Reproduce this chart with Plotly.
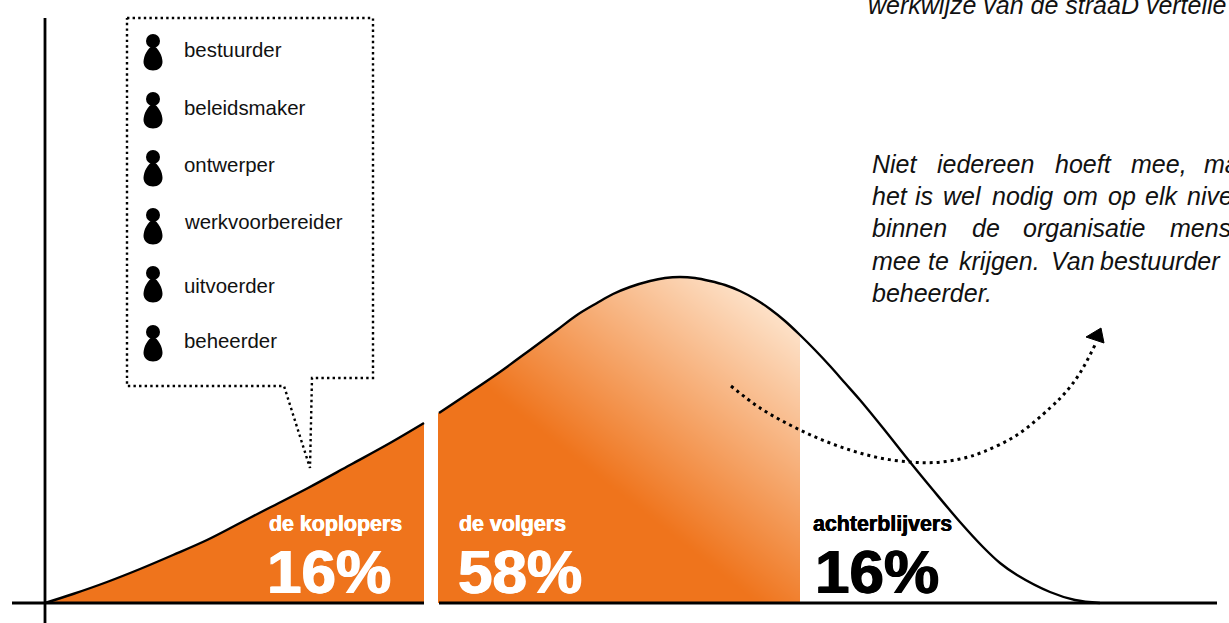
import numpy as np
import plotly.graph_objects as go

# ---- data (pixel-like scale of the drawing) ----
left_x = [45, 73, 107, 140, 173, 207, 240, 269, 308, 350, 390, 424]
left_y = [603, 594, 582, 569, 555, 540, 523, 508, 488, 465, 443, 423]

hump_x = [439, 463, 497, 530, 557, 577, 597, 613, 630, 650, 665, 680, 695, 710, 725, 740,
          755, 770, 785, 800, 815, 830, 845, 860, 883, 910, 933, 960, 983, 1000, 1017, 1050, 1075, 1100]
hump_y = [413, 397, 374, 350, 330, 315, 303, 294, 287, 281, 278, 277, 278, 281, 285, 291,
          299, 309, 321, 335, 350, 366, 383, 400, 428, 462, 490, 522, 547, 563, 575, 592, 600, 603]

arc_x = [731, 760, 790, 820, 850, 880, 910, 935, 960, 983, 1017, 1050, 1065, 1080, 1095]
arc_y = [386, 408, 425, 439, 450, 458, 462, 462.5, 459, 452, 435, 408, 393, 373, 345]
arrow_x = [1086, 1101, 1104, 1086]
arrow_y = [337, 328, 343, 337]

bubble_x = [127, 373, 373, 312, 310, 284, 127, 127]
bubble_y = [18, 18, 378, 378, 468, 386, 386, 18]

roles = ["bestuurder", "beleidsmaker", "ontwerper", "werkvoorbereider", "uitvoerder", "beheerder"]
role_y = [50, 108, 165, 222, 286, 341]
icon_y = [41, 99, 157, 215, 273, 332]

segments = ["de koplopers", "de volgers", "achterblijvers"]
segment_pct = ["16%", "58%", "16%"]
segment_x = [269, 459, 813]
pct_x = [267, 458, 815]
segment_col = ["white", "white", "black"]

top_line = "werkwijze van de straaD vertelle"
body_lines = [
    (164, [872, 937, 1055, 1131, 1204], ["Niet", "iedereen", "hoeft", "mee,", "ma"]),
    (196, [872, 915, 943, 992, 1063, 1108, 1145, 1187], ["het", "is", "wel", "nodig", "om", "op", "elk", "nive"]),
    (228, [872, 972, 1023, 1170], ["binnen", "de", "organisatie", "mens"]),
    (261, [872, 928, 959, 1051, 1100], ["mee", "te", "krijgen.", "Van", "bestuurder"]),
    (293, [872], ["beheerder."]),
]

ORANGE = "#EF741C"
PEACH = "#FDE0C6"
FONT = "Liberation Sans"

fig = go.Figure()

# diagonal gradient under the middle section
gx = 438 + (np.arange(72) + 0.5) * 362 / 72
gy = 262 + (np.arange(68) + 0.5) * 341 / 68
GX, GY = np.meshgrid(gx, gy)
depth = np.clip(((GX - 620) * 0.62 - (GY - 493) * 0.78) / 235.0, 0, 1)
fig.add_trace(go.Heatmap(x=gx, y=gy, z=depth, zmin=0, zmax=1, zsmooth="best", showscale=False,
                         colorscale=[[0, ORANGE], [1, PEACH]], hoverinfo="skip"))

# white mask above the curve
n_mid = hump_x.index(800) + 1
fig.add_trace(go.Scatter(x=hump_x[:n_mid] + [801, 801, 437, 437], y=hump_y[:n_mid] + [335, 260, 260, 413],
                         mode="lines", fill="toself", fillcolor="white", line=dict(width=0), hoverinfo="skip"))
fig.add_trace(go.Scatter(x=left_x + [424, 45], y=left_y + [603, 603], mode="lines", fill="toself",
                         fillcolor=ORANGE, line=dict(width=0), hoverinfo="skip"))

# curves
fig.add_trace(go.Scatter(x=left_x, y=left_y, mode="lines", line=dict(color="black", width=2.4, shape="spline"), hoverinfo="skip"))
fig.add_trace(go.Scatter(x=hump_x, y=hump_y, mode="lines", line=dict(color="black", width=2.4, shape="spline"), hoverinfo="skip"))

# axes
fig.add_trace(go.Scatter(x=[45, 45], y=[18, 623], mode="lines", line=dict(color="black", width=2.8), hoverinfo="skip"))
fig.add_trace(go.Scatter(x=[12, 424], y=[603, 603], mode="lines", line=dict(color="black", width=2.8), hoverinfo="skip"))
fig.add_trace(go.Scatter(x=[439, 1217], y=[603, 603], mode="lines", line=dict(color="black", width=2.8), hoverinfo="skip"))

# dotted bubble and arc
fig.add_trace(go.Scatter(x=bubble_x, y=bubble_y, mode="lines", line=dict(color="black", width=2.4, dash="2.4px,3.2px"), hoverinfo="skip"))
fig.add_trace(go.Scatter(x=arc_x, y=arc_y, mode="lines", line=dict(color="black", width=3, dash="3px,4px", shape="spline"), hoverinfo="skip"))
fig.add_trace(go.Scatter(x=arrow_x, y=arrow_y, mode="lines", fill="toself", fillcolor="black", line=dict(color="black", width=1), hoverinfo="skip"))

# pawn icons
fig.add_trace(go.Scatter(x=[153] * len(icon_y), y=icon_y, mode="markers",
                         marker=dict(color="black", size=14, line=dict(width=0)), hoverinfo="skip"))
shapes = []
for h in icon_y:
    shapes.append(dict(type="path", xref="x", yref="y", fillcolor="black", line=dict(width=0),
                       path=(f"M 153 {h+5} C 158 {h+6}, 162.5 {h+15}, 162.5 {h+21} C 162.5 {h+26}, 158 {h+29.5}, 153 {h+29.5} "
                             f"C 148 {h+29.5}, 143.5 {h+26}, 143.5 {h+21} C 143.5 {h+15}, 148 {h+6}, 153 {h+5} Z")))

ann = []
def text(x, y, s, size, color="#111111", italic=False, bold=False, heavy=0):
    font = dict(family=FONT, size=size, color=color, style="italic" if italic else "normal")
    if heavy:
        font["shadow"] = f"{heavy}px 0 0 {color}, -{heavy}px 0 0 {color}"
    ann.append(dict(x=x - 2, y=y, xref="x", yref="y", text=f"<b>{s}</b>" if bold else s, showarrow=False,
                    xanchor="left", yanchor="middle", align="left", font=font))

for r, y in zip(roles, role_y):
    text(184, y, r, 20.4)
for s, p, sx, px, c in zip(segments, segment_pct, segment_x, pct_x, segment_col):
    text(sx, 524, s, 21.4, color=c, bold=True, heavy=0.3)
    text(px, 571, p, 62, color=c, bold=True, heavy=0.8)

text(868, 5, top_line, 25, italic=True)
for y, xs, words in body_lines:
    for x, w in zip(xs, words):
        text(x, y, w, 25, italic=True)

fig.update_layout(
    width=1229, height=623, margin=dict(l=0, r=0, t=0, b=0), showlegend=False,
    paper_bgcolor="white", plot_bgcolor="white", shapes=shapes, annotations=ann,
    xaxis=dict(range=[0, 1229], visible=False, fixedrange=True),
    yaxis=dict(range=[623, 0], visible=False, fixedrange=True),
)
fig.write_html("out.html", config=dict(displayModeBar=False),
               post_script="document.body.style.margin='0';document.documentElement.style.overflow='hidden';")
